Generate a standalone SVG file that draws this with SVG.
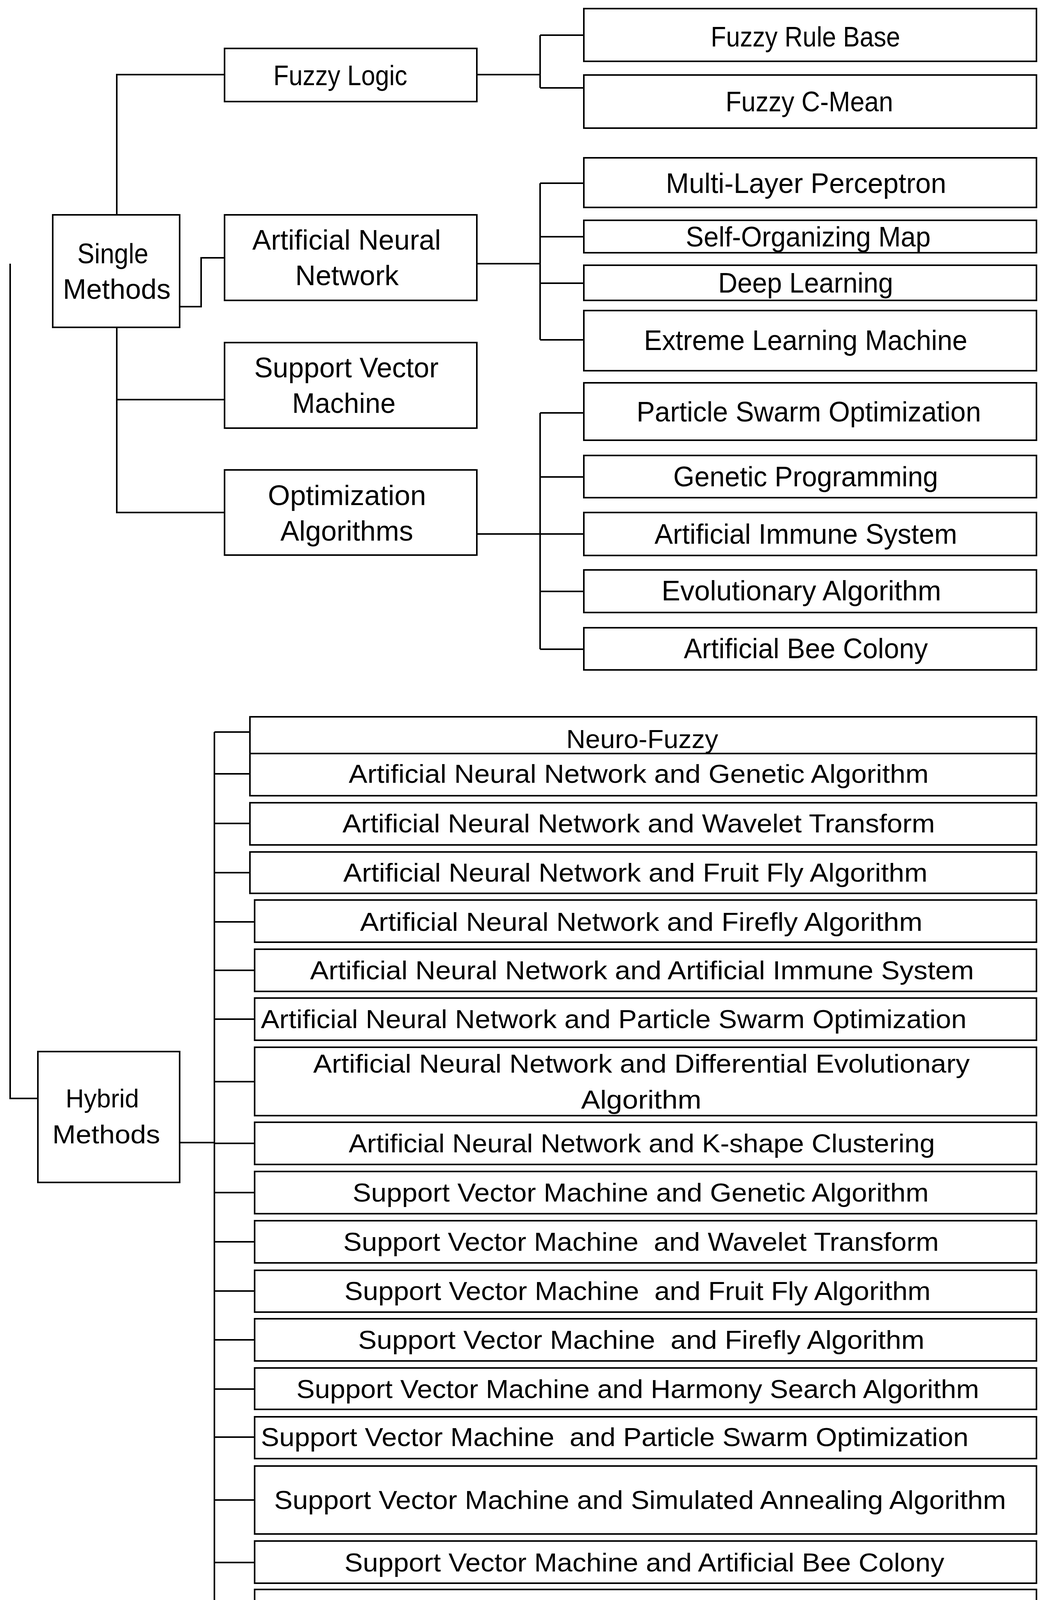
<svg xmlns="http://www.w3.org/2000/svg" width="2681" height="4211" viewBox="0 0 2681 4211">
<style>
rect{fill:#fff;stroke:#000;stroke-width:4}
.c path{fill:none;stroke:#000;stroke-width:4}
text{font-family:"Liberation Sans",Arial,sans-serif;font-size:66px;fill:#000;dominant-baseline:central}
.t text{font-size:72px}
</style>
<rect x="0" y="0" width="2681" height="4211" style="stroke:none"/>
<g class="c" id="connectors">
<path d="M26 675V2812H97M299 550V191H575M299 838V1312H575M299 1023H575M460 785H515V660H575"/>
<path d="M1221 191H1383M1383 90V225M1383 90H1495M1383 225H1495"/>
<path d="M1221 675H1383M1383 469V870M1383 469H1495M1383 606H1495M1383 725H1495M1383 870H1495"/>
<path d="M1221 1367H1383M1383 1057V1662M1383 1057H1495M1383 1221H1495M1383 1367H1495M1383 1514H1495M1383 1662H1495"/>
<path d="M460 2925H549M549 1874V4122M549 1874H640M549 1981H640M549 2108H640M549 2234H640M549 2360H652M549 2484H652M549 2609H652M549 2769H652M549 2927H652M549 3053H652M549 3179H652M549 3305H652M549 3430H652M549 3556H652M549 3679H652M549 3840H652M549 4000H652M549 4122H652"/>
</g>
<g class="t">
<g id="single"><rect x="135" y="550" width="325" height="288"/><text x="198" y="649" textLength="182" lengthAdjust="spacingAndGlyphs">Single</text><text x="161" y="740" textLength="276" lengthAdjust="spacingAndGlyphs">Methods</text></g>
<g id="fuzzy"><rect x="575" y="124" width="646" height="136"/><text x="700" y="193" textLength="343" lengthAdjust="spacingAndGlyphs">Fuzzy Logic</text></g>
<g id="ann"><rect x="575" y="550" width="646" height="219"/><text x="646" y="614" textLength="483" lengthAdjust="spacingAndGlyphs">Artificial Neural</text><text x="756" y="705" textLength="265" lengthAdjust="spacingAndGlyphs">Network</text></g>
<g id="svm"><rect x="575" y="877" width="646" height="219"/><text x="651" y="941" textLength="472" lengthAdjust="spacingAndGlyphs">Support Vector</text><text x="748" y="1032" textLength="265" lengthAdjust="spacingAndGlyphs">Machine</text></g>
<g id="opt"><rect x="575" y="1203" width="646" height="218"/><text x="686" y="1268" textLength="405" lengthAdjust="spacingAndGlyphs">Optimization</text><text x="718" y="1359" textLength="340" lengthAdjust="spacingAndGlyphs">Algorithms</text></g>
<g id="frb"><rect x="1495" y="22" width="1159" height="135"/><text x="1820" y="94" textLength="485" lengthAdjust="spacingAndGlyphs">Fuzzy Rule Base</text></g>
<g id="fcm"><rect x="1495" y="192" width="1159" height="136"/><text x="1858" y="260" textLength="429" lengthAdjust="spacingAndGlyphs">Fuzzy C-Mean</text></g>
<g id="mlp"><rect x="1495" y="404" width="1159" height="127"/><text x="1705" y="469" textLength="718" lengthAdjust="spacingAndGlyphs">Multi-Layer Perceptron</text></g>
<g id="som"><rect x="1495" y="564" width="1159" height="83"/><text x="1756" y="606" textLength="627" lengthAdjust="spacingAndGlyphs">Self-Organizing Map</text></g>
<g id="dl"><rect x="1495" y="679" width="1159" height="90"/><text x="1839" y="724" textLength="448" lengthAdjust="spacingAndGlyphs">Deep Learning</text></g>
<g id="elm"><rect x="1495" y="795" width="1159" height="154"/><text x="1649" y="871" textLength="828" lengthAdjust="spacingAndGlyphs">Extreme Learning Machine</text></g>
<g id="pso"><rect x="1495" y="980" width="1159" height="147"/><text x="1630" y="1054" textLength="882" lengthAdjust="spacingAndGlyphs">Particle Swarm Optimization</text></g>
<g id="gp"><rect x="1495" y="1166" width="1159" height="108"/><text x="1724" y="1220" textLength="678" lengthAdjust="spacingAndGlyphs">Genetic Programming</text></g>
<g id="ais"><rect x="1495" y="1312" width="1159" height="110"/><text x="1676" y="1367" textLength="775" lengthAdjust="spacingAndGlyphs">Artificial Immune System</text></g>
<g id="ea"><rect x="1495" y="1459" width="1159" height="109"/><text x="1694" y="1512" textLength="716" lengthAdjust="spacingAndGlyphs">Evolutionary Algorithm</text></g>
<g id="abc"><rect x="1495" y="1607" width="1159" height="108"/><text x="1751" y="1660" textLength="625" lengthAdjust="spacingAndGlyphs">Artificial Bee Colony</text></g>
</g>
<g id="hybrid"><rect x="97" y="2692" width="363" height="335"/><text x="168" y="2812" textLength="188" lengthAdjust="spacingAndGlyphs">Hybrid</text><text x="134" y="2904" textLength="276" lengthAdjust="spacingAndGlyphs">Methods</text></g>
<g id="h1"><rect x="640" y="1835" width="2014" height="94"/><text x="1450" y="1892" textLength="389" lengthAdjust="spacingAndGlyphs">Neuro-Fuzzy</text></g>
<g id="h2"><rect x="640" y="1929" width="2014" height="108"/><text x="893" y="1981" textLength="1485" lengthAdjust="spacingAndGlyphs">Artificial Neural Network and Genetic Algorithm</text></g>
<g id="h3"><rect x="640" y="2055" width="2014" height="108"/><text x="877" y="2108" textLength="1517" lengthAdjust="spacingAndGlyphs">Artificial Neural Network and Wavelet Transform</text></g>
<g id="h4"><rect x="640" y="2181" width="2014" height="106"/><text x="879" y="2234" textLength="1496" lengthAdjust="spacingAndGlyphs">Artificial Neural Network and Fruit Fly Algorithm</text></g>
<g id="h5"><rect x="652" y="2304" width="2002" height="108"/><text x="922" y="2360" textLength="1440" lengthAdjust="spacingAndGlyphs">Artificial Neural Network and Firefly Algorithm</text></g>
<g id="h6"><rect x="652" y="2430" width="2002" height="108"/><text x="794" y="2484" textLength="1700" lengthAdjust="spacingAndGlyphs">Artificial Neural Network and Artificial Immune System</text></g>
<g id="h7"><rect x="652" y="2555" width="2002" height="108"/><text x="668" y="2609" textLength="1807" lengthAdjust="spacingAndGlyphs">Artificial Neural Network and Particle Swarm Optimization</text></g>
<g id="h8"><rect x="652" y="2681" width="2002" height="175"/><text x="802" y="2723" textLength="1681" lengthAdjust="spacingAndGlyphs">Artificial Neural Network and Differential Evolutionary</text><text x="1488" y="2815" textLength="308" lengthAdjust="spacingAndGlyphs">Algorithm</text></g>
<g id="h9"><rect x="652" y="2873" width="2002" height="108"/><text x="893" y="2927" textLength="1501" lengthAdjust="spacingAndGlyphs">Artificial Neural Network and K-shape Clustering</text></g>
<g id="h10"><rect x="652" y="2999" width="2002" height="108"/><text x="903" y="3053" textLength="1475" lengthAdjust="spacingAndGlyphs">Support Vector Machine and Genetic Algorithm</text></g>
<g id="h11"><rect x="652" y="3125" width="2002" height="108"/><text x="879" y="3179" textLength="1525" lengthAdjust="spacingAndGlyphs" xml:space="preserve">Support Vector Machine  and Wavelet Transform</text></g>
<g id="h12"><rect x="652" y="3252" width="2002" height="107"/><text x="882" y="3305" textLength="1501" lengthAdjust="spacingAndGlyphs" xml:space="preserve">Support Vector Machine  and Fruit Fly Algorithm</text></g>
<g id="h13"><rect x="652" y="3376" width="2002" height="108"/><text x="917" y="3430" textLength="1450" lengthAdjust="spacingAndGlyphs" xml:space="preserve">Support Vector Machine  and Firefly Algorithm</text></g>
<g id="h14"><rect x="652" y="3502" width="2002" height="106"/><text x="759" y="3556" textLength="1748" lengthAdjust="spacingAndGlyphs">Support Vector Machine and Harmony Search Algorithm</text></g>
<g id="h15"><rect x="652" y="3627" width="2002" height="107"/><text x="668" y="3679" textLength="1812" lengthAdjust="spacingAndGlyphs" xml:space="preserve">Support Vector Machine  and Particle Swarm Optimization</text></g>
<g id="h16"><rect x="652" y="3753" width="2002" height="174"/><text x="702" y="3840" textLength="1874" lengthAdjust="spacingAndGlyphs">Support Vector Machine and Simulated Annealing Algorithm</text></g>
<g id="h17"><rect x="652" y="3945" width="2002" height="108"/><text x="882" y="4000" textLength="1536" lengthAdjust="spacingAndGlyphs">Support Vector Machine and Artificial Bee Colony</text></g>
<g id="h18"><rect x="652" y="4069" width="2002" height="108"/><text x="772" y="4122" textLength="1740" lengthAdjust="spacingAndGlyphs">Support Vector Machine and Stepwise Search Algorithm</text></g>
</svg>
